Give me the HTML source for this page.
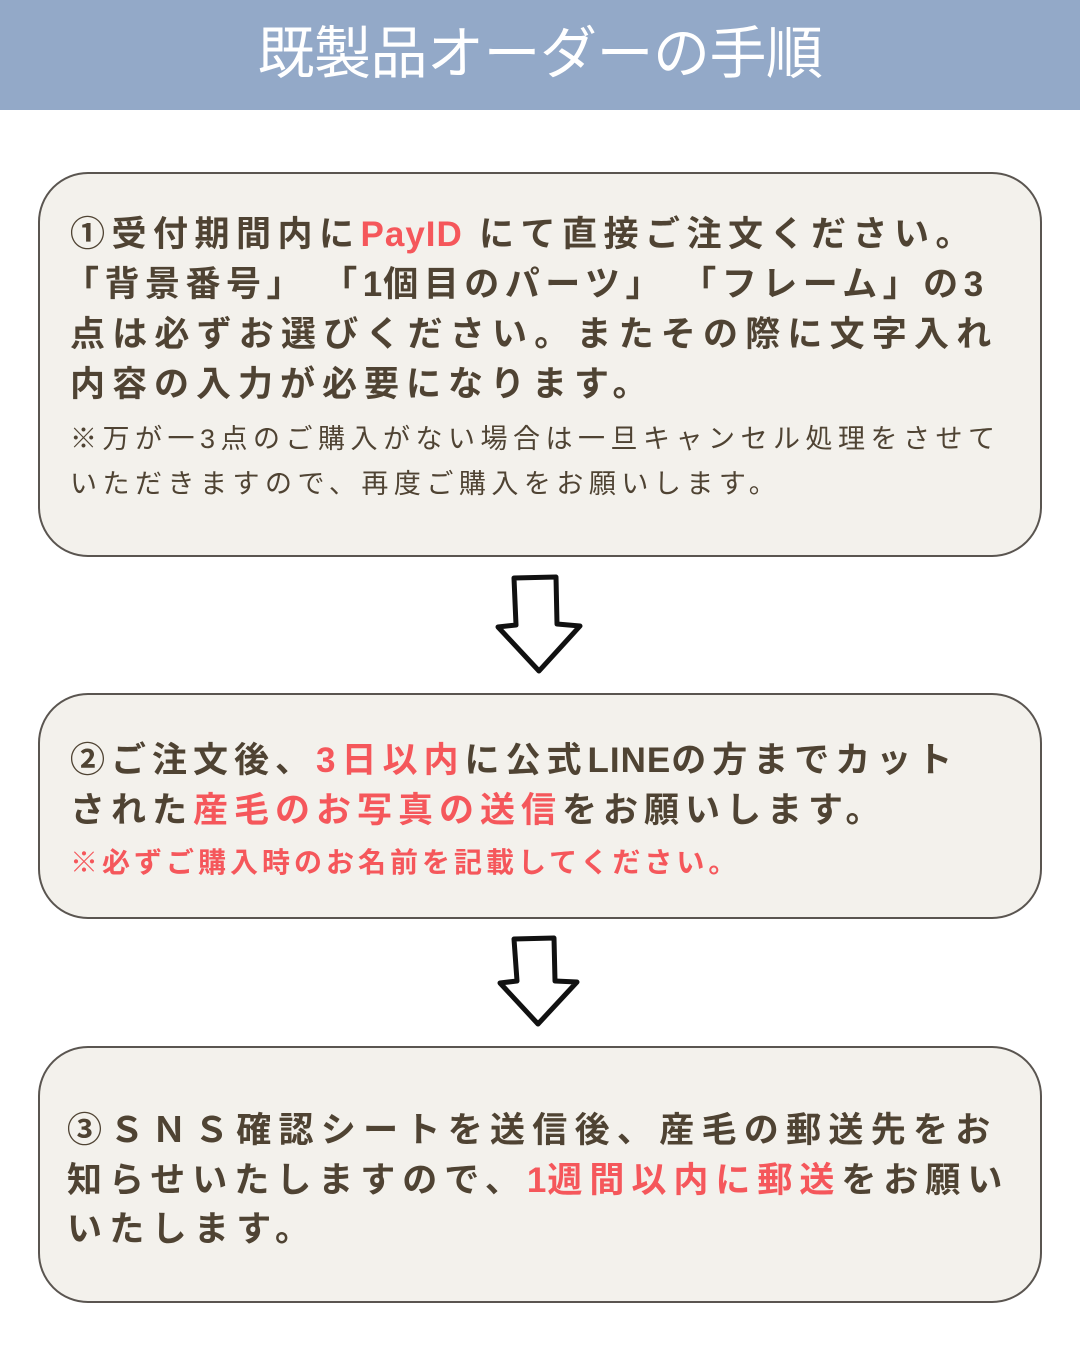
<!DOCTYPE html>
<html><head><meta charset="utf-8"><style>
body{margin:0;width:1080px;height:1349px;background:#fff;position:relative;overflow:hidden;font-family:"Liberation Sans","Noto Sans CJK JP",sans-serif;}
.hd{position:absolute;left:0;top:0;width:1080px;height:110px;background:#93a9c8;color:#fff;font-size:57px;text-align:center;line-height:108px;letter-spacing:-0.5px;}
.box{position:absolute;left:38px;width:1004px;background:#f3f1ec;border:2px solid #5a5550;border-radius:50px;box-sizing:border-box;}
.t{position:absolute;left:30px;white-space:nowrap;color:#4f4333;font-weight:bold;font-size:35px;letter-spacing:6px;}
.s{position:absolute;left:30px;white-space:nowrap;color:#4f4333;font-size:27px;letter-spacing:5.5px;}
.r{color:#f5575b;}
.l{letter-spacing:1px;}
</style></head><body>
<div class="hd">既製品オーダーの手順</div>

<div class="box" style="top:172px;height:385px;">
<div class="t" style="top:32px;letter-spacing:6.5px;">①受付期間内に<span class="r l">PayID</span> にて直接ご注文ください。</div>
<div class="t" style="top:82px;left:24px;letter-spacing:5.5px;">「背景番号」 「<span class="l">1</span>個目のパーツ」 「フレーム」の<span class="l">3</span></div>
<div class="t" style="top:132px;letter-spacing:7.2px;">点は必ずお選びください。またその際に文字入れ</div>
<div class="t" style="top:182px;letter-spacing:7px;">内容の入力が必要になります。</div>
<div class="s" style="top:243px;">※万が一3点のご購入がない場合は一旦キャンセル処理をさせて</div>
<div class="s" style="top:288px;">いただきますので、再度ご購入をお願いします。</div>
</div>

<svg style="position:absolute;left:490px;top:570px" width="100" height="110" viewBox="0 0 100 110"><path d="M24 8 L66 7 L67 54 L90 56 L49 101 L8 57 L26 55 Z" fill="#fff" stroke="#111" stroke-width="5" stroke-linejoin="round"/></svg>

<div class="box" style="top:693px;height:226px;">
<div class="t" style="top:37px;">②ご注文後、<span class="r">3日以内</span>に公式<span class="l">LINE</span>の方までカット</div>
<div class="t" style="top:87px;">された<span class="r">産毛のお写真の送信</span>をお願いします。</div>
<div class="s r" style="top:146px;font-weight:bold;font-size:28px;letter-spacing:4px;">※必ずご購入時のお名前を記載してください。</div>
</div>

<svg style="position:absolute;left:492px;top:932px" width="95" height="100" viewBox="0 0 95 100"><path d="M22 7 L62 6 L63 49 L85 50 L46 92 L8 51 L25 49 Z" fill="#fff" stroke="#111" stroke-width="5" stroke-linejoin="round"/></svg>

<div class="box" style="top:1046px;height:257px;">
<div class="t" style="top:54px;left:27px;letter-spacing:7.3px;">③ＳＮＳ確認シートを送信後、産毛の郵送先をお</div>
<div class="t" style="top:104px;left:27px;letter-spacing:7px;">知らせいたしますので、<span class="r"><span class="l">1</span>週間以内に郵送</span>をお願い</div>
<div class="t" style="top:153px;left:27px;letter-spacing:7.3px;">いたします。</div>
</div>
</body></html>
